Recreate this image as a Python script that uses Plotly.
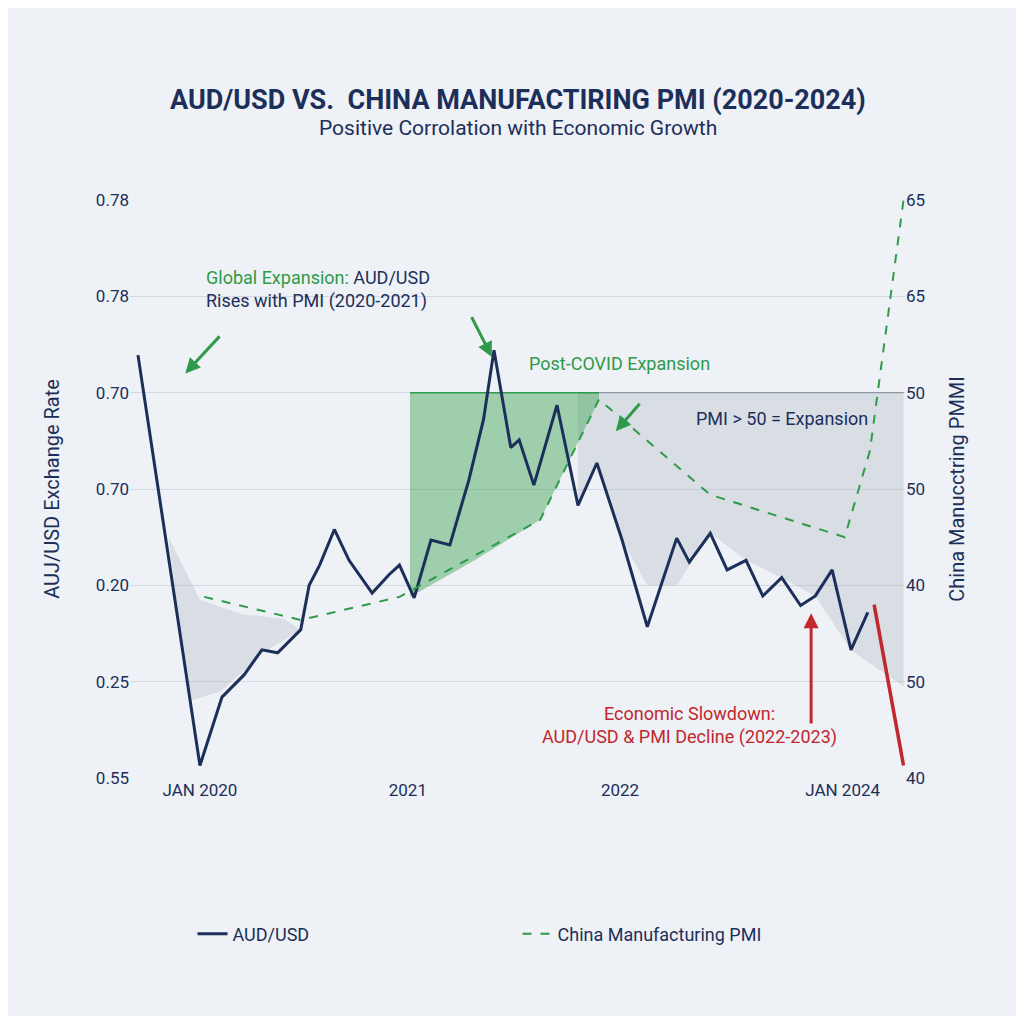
import plotly.graph_objects as go

# AUD/USD line (x: years from Jan 2020, y: left-axis units)
aud_x = [-0.295,0,0.105,0.21,0.295,0.37,0.48,0.52,0.57,0.64,0.71,0.76,0.82,0.9,0.95,1.02,1.1,1.19,1.28,1.35,1.4,1.48,1.52,1.59,1.7,1.8,1.89,2.01,2.13,2.27,2.33,2.43,2.51,2.6,2.68,2.77,2.86,2.93,3.01,3.1,3.18]
aud_y = [4.39,0.13,0.84,1.07,1.33,1.30,1.54,2.0,2.21,2.58,2.26,2.11,1.92,2.11,2.21,1.87,2.47,2.42,3.09,3.72,4.44,3.43,3.51,3.04,3.87,2.83,3.27,2.47,1.57,2.49,2.24,2.54,2.16,2.26,1.89,2.08,1.79,1.89,2.16,1.33,1.72]
pmi_x = [0.02,0.48,0.95,1.62,1.9,2.43,3.07,3.19,3.35]
pmi_y = [1.88,1.64,1.88,2.68,3.93,2.94,2.5,3.4,6.0]
left_ticks = ["0.55","0.25","0.20","0.70","0.70","0.78","0.78"]
right_ticks = ["40","50","40","50","50","65","65"]
x_tickvals = [0,0.99,2.0,3.06]
x_ticktext = ["JAN 2020","2021","2022","JAN 2024"]

navy = "#1c2f5a"; green = "#2e9a4a"; red = "#c0282d"
fig = go.Figure()
gx = [1.8,1.89,2.01,2.13,2.27,2.43,2.6,2.77,2.93,3.1,3.35]
gy = [2.83,3.27,2.47,2.0,2.0,2.54,2.26,2.08,1.89,1.33,0.95]
fig.add_trace(go.Scatter(x=[1.8,3.35], y=[4.0,4.0], mode="lines", line=dict(color="#8a93a3", width=1.2), showlegend=False, hoverinfo="skip"))
fig.add_trace(go.Scatter(x=gx+gx[::-1], y=gy+[4.0]*len(gx), mode="lines", fill="toself", fillcolor="rgba(170,178,192,0.3)", line=dict(width=0), showlegend=False, hoverinfo="skip"))
bx = [-0.15,0.0,0.2,0.4,0.48,0.3,0.1,-0.05]
by = [2.5,1.85,1.7,1.65,1.54,1.3,0.9,0.8]
fig.add_trace(go.Scatter(x=bx, y=by, mode="lines", fill="toself", fillcolor="rgba(170,178,192,0.3)", line=dict(width=0), showlegend=False, hoverinfo="skip"))
ax_ = [1.0,1.3,1.62,1.9]
ay_ = [1.88,2.25,2.68,3.93]
fig.add_trace(go.Scatter(x=ax_+[1.9,1.0], y=ay_+[4.0,4.0], mode="lines", fill="toself", fillcolor="rgba(60,165,85,0.45)", line=dict(width=0), showlegend=False, hoverinfo="skip"))
fig.add_trace(go.Scatter(x=[1.0,1.9], y=[4.0,4.0], mode="lines", line=dict(color=green, width=1.5), showlegend=False, hoverinfo="skip"))
fig.add_trace(go.Scatter(x=aud_x, y=aud_y, mode="lines", name="AUD/USD", line=dict(color=navy, width=3)))
fig.add_trace(go.Scatter(x=pmi_x, y=pmi_y, mode="lines", name="China Manufacturing PMI", line=dict(color=green, width=2, dash="dash"), yaxis="y2"))
fig.add_trace(go.Scatter(x=[3.21,3.35],y=[1.8,0.13],mode="lines",line=dict(color=red,width=3.5),showlegend=False,hoverinfo="skip"))

fig.update_layout(
    width=1008, height=1008, paper_bgcolor="#eef1f5", plot_bgcolor="#eef1f5",
    margin=dict(l=122, r=111, t=192, b=238),
    font=dict(family="Roboto", color=navy, size=17),
    xaxis=dict(range=[-0.333,3.357], tickvals=x_tickvals, ticktext=x_ticktext, showgrid=False, zeroline=False, ticks="", ticklen=0),
    yaxis=dict(range=[0,6], tickvals=list(range(7)), ticktext=left_ticks, gridcolor="#d3d8e0", zeroline=False,
               title=dict(text="AUJ/USD Exchange Rate", standoff=30)),
    yaxis2=dict(range=[0,6], overlaying="y", side="right", tickvals=list(range(7)), ticktext=right_ticks, showgrid=False, zeroline=False,
                title=dict(text="China Manucctring PMMI", standoff=25)),
    legend=dict(orientation="h", x=0.5, xanchor="center", y=-0.27, yanchor="middle", bgcolor="rgba(0,0,0,0)", font=dict(size=18), entrywidth=280),
    showlegend=True,
)
def A(**k):
    d = dict(xref="x", yref="y", showarrow=False); d.update(k); fig.add_annotation(**d)
fig.add_annotation(text="<b>AUD/USD VS.  CHINA MANUFACTIRING PMI (2020-2024)</b>", xref="paper", yref="paper", x=0.5, y=(778-100)/578, yanchor="middle", showarrow=False, font=dict(size=27, color=navy))
fig.add_annotation(text="Positive Corrolation with Economic Growth", xref="paper", yref="paper", x=0.5, y=(778-128)/578, yanchor="middle", showarrow=False, font=dict(size=21, color=navy))
A(x=0.02, y=5.07, text="<span style='color:#2e9a4a'>Global Expansion:</span> AUD/USD<br>Rises with PMI (2020-2021)", xanchor="left", align="left", font=dict(size=18, color=navy))
A(x=2.0, y=4.3, text="Post-COVID Expansion", xanchor="center", font=dict(size=18, color=green))
A(x=2.77, y=3.73, text="PMI > 50 = Expansion", xanchor="center", font=dict(size=18, color=navy))
A(x=2.33, y=0.55, text="Economic Slowdown:<br>AUD/USD & PMI Decline (2022-2023)", xanchor="center", align="center", font=dict(size=18, color=red))
for (hx,hy,tx,ty,c) in [(-0.07,4.2,0.1,4.6,green),(1.39,4.37,1.29,4.8,green),(1.98,3.6,2.1,3.9,green),(2.91,1.71,2.91,0.55,red)]:
    fig.add_annotation(x=hx,y=hy,ax=tx,ay=ty,axref="x",ayref="y",xref="x",yref="y",text="",showarrow=True,arrowhead=2,arrowsize=1,arrowwidth=3,arrowcolor=c)
fig.write_html("out.html")
